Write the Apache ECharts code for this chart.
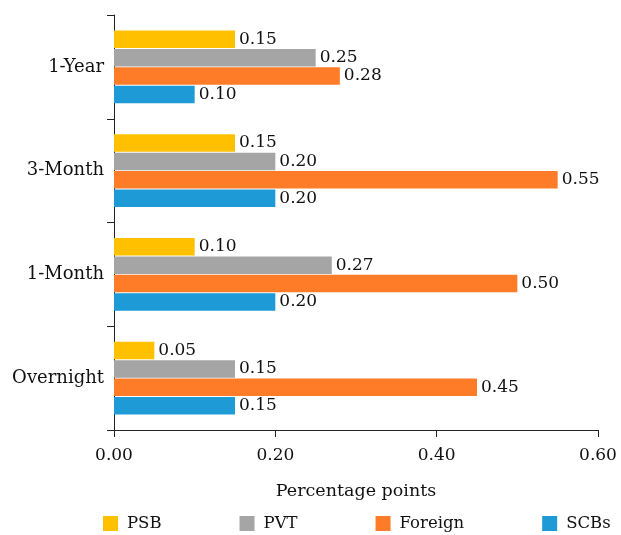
<!DOCTYPE html>
<html>
<head>
<meta charset="utf-8">
<script src="https://cdn.jsdelivr.net/npm/echarts@6/dist/echarts.min.js"></script>
<style>
  html, body { margin: 0; padding: 0; background: #fff; }
  #chart { width: 621px; height: 535px; }
</style>
</head>
<body>
<div id="chart"></div>
<script>
// Tenors, listed bottom to top on the category axis
const tenors = ['Overnight', '1-Month', '3-Month', '1-Year'];

// Spread by bank group (percentage points), in tenor order
const psb = [0.05, 0.10, 0.15, 0.15];
const pvt = [0.15, 0.27, 0.20, 0.25];
const foreign = [0.45, 0.50, 0.55, 0.28];
const scbs = [0.15, 0.20, 0.20, 0.10];

const xTicks = [0, 0.2, 0.4, 0.6];

const FONT = 'DejaVu Serif';
const colors = { PSB: '#FFC000', PVT: '#A5A5A5', Foreign: '#FE7C28', SCBs: '#1E9BD7' };

function barSeries(name, values) {
  return {
    name: name,
    type: 'bar',
    data: values,
    barCategoryGap: '30%',
    barGap: '5%',
    itemStyle: { color: colors[name] },
    label: {
      show: true,
      position: 'right',
      distance: 4,
      color: '#111',
      fontFamily: FONT,
      fontSize: 17,
      formatter: p => p.value.toFixed(2)
    }
  };
}

const chart = echarts.init(document.getElementById('chart'), null, { renderer: 'canvas' });
chart.setOption({
  animation: false,
  textStyle: { fontFamily: FONT },
  grid: { left: 114, right: 23, top: 15, bottom: 105, containLabel: false },
  legend: {
    data: ['PSB', 'PVT', 'Foreign', 'SCBs'],
    left: 103,
    top: 515,
    padding: 0,
    itemWidth: 15,
    itemHeight: 15,
    itemGap: 78,
    icon: 'rect',
    textStyle: { fontFamily: FONT, fontSize: 16.5, color: '#111', padding: [0, 0, 0, 4] }
  },
  xAxis: {
    type: 'value',
    min: xTicks[0],
    max: xTicks[xTicks.length - 1],
    interval: 0.2,
    splitLine: { show: false },
    axisLine: { show: true, lineStyle: { color: '#222', width: 1 } },
    axisTick: { show: true, length: 7, lineStyle: { color: '#222' } },
    axisLabel: { color: '#111', fontSize: 17, fontFamily: FONT, margin: 17, formatter: v => v.toFixed(2) },
    name: 'Percentage points',
    nameLocation: 'middle',
    nameGap: 52,
    nameTextStyle: { color: '#111', fontSize: 17.5, fontFamily: FONT }
  },
  yAxis: {
    type: 'category',
    data: tenors,
    axisLine: { show: true, lineStyle: { color: '#222', width: 1 } },
    axisTick: { show: true, length: 7, lineStyle: { color: '#222' } },
    axisLabel: { color: '#111', fontSize: 18, fontFamily: FONT, margin: 10 }
  },
  // First series sits at the top of each tenor group
  series: [
    barSeries('PSB', psb),
    barSeries('PVT', pvt),
    barSeries('Foreign', foreign),
    barSeries('SCBs', scbs)
  ]
});
</script>
</body>
</html>
